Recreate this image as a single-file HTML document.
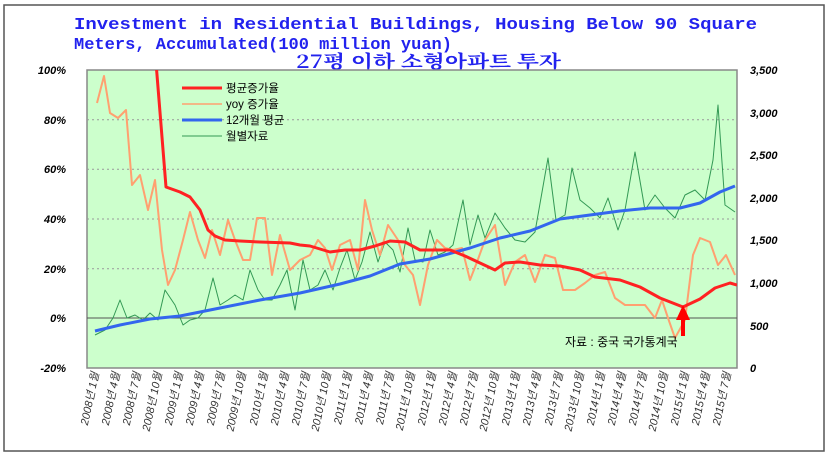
<!DOCTYPE html>
<html><head><meta charset="utf-8"><style>
body{margin:0;background:#fff}
svg{display:block}
</style></head><body>
<svg width="830" height="457" viewBox="0 0 830 457" font-family="Liberation Sans, Noto Sans CJK KR, sans-serif">
<rect x="4" y="5" width="820" height="446" fill="#fff" stroke="#555" stroke-width="1.5"/>
<text x="74" y="29" style="font-family:'Liberation Mono',monospace" font-weight="bold" font-size="16.5" fill="#2222ee" textLength="683" lengthAdjust="spacingAndGlyphs">Investment in Residential Buildings, Housing Below 90 Square</text>
<text x="74" y="49" style="font-family:'Liberation Mono',monospace" font-weight="bold" font-size="16.5" fill="#2222ee" textLength="378" lengthAdjust="spacingAndGlyphs">Meters, Accumulated(100 million yuan)</text>
<text x="296" y="68" style="font-family:'Noto Serif CJK KR','Noto Serif CJK SC',serif" font-weight="bold" font-size="18" fill="#2222ee" textLength="265" lengthAdjust="spacingAndGlyphs">27평 이하 소형아파트 투자</text>
<rect x="87" y="70" width="650" height="298" fill="#ccffcc" stroke="#888" stroke-width="1.5"/>
<g stroke="#999" stroke-dasharray="2,3" stroke-width="1">
<line x1="87" y1="119.7" x2="737" y2="119.7"/><line x1="87" y1="169.3" x2="737" y2="169.3"/>
<line x1="87" y1="219" x2="737" y2="219"/><line x1="87" y1="268.7" x2="737" y2="268.7"/>
</g>
<line x1="87" y1="318" x2="737" y2="318" stroke="#555" stroke-width="1"/>
<g font-size="11" font-style="italic" font-weight="bold" text-anchor="end">
<text x="66" y="74">100%</text><text x="66" y="124">80%</text><text x="66" y="173">60%</text>
<text x="66" y="223">40%</text><text x="66" y="273">20%</text><text x="66" y="322">0%</text><text x="66" y="372">-20%</text>
</g>
<g font-size="11" font-style="italic" font-weight="bold">
<text x="750" y="74">3,500</text><text x="750" y="117">3,000</text><text x="750" y="159">2,500</text>
<text x="750" y="202">2,000</text><text x="750" y="244">1,500</text><text x="750" y="287">1,000</text>
<text x="750" y="330">500</text><text x="750" y="372">0</text>
</g>
<clipPath id="c"><rect x="87" y="70" width="650" height="298"/></clipPath>
<g clip-path="url(#c)" fill="none" stroke-linejoin="round">
<polyline stroke="#339955" stroke-width="1" points="95,335 105,330 113,318 120,300 127,318 135,315 143,320 150,313 158,320 165,290 175,305 183,325 190,320 198,318 205,310 213,278 220,305 228,300 235,295 243,300 250,270 258,290 265,300 272,300 280,285 287,270 295,310 303,260 310,290 318,285 325,270 333,290 340,268 347,250 355,280 362,262 370,232 378,262 385,242 393,250 400,272 408,228 415,260 423,262 430,230 438,255 445,252 453,245 463,200 470,245 478,215 485,238 495,213 505,228 515,240 525,242 535,232 548,158 556,220 565,215 572,168 580,200 590,208 600,218 608,198 618,230 625,210 635,152 645,210 655,195 665,208 675,218 685,195 695,190 705,200 713,160 718,105 725,205 735,212"/>
<polyline stroke="#ffa070" stroke-width="2" points="97,103 104,76 110,113 118,118 126,110 132,185 140,175 148,210 155,180 162,250 168,285 175,270 183,240 190,212 198,240 205,258 212,230 220,255 228,220 235,240 243,260 250,260 257,218 265,218 272,275 280,235 290,270 300,260 310,255 318,240 325,248 332,270 340,245 350,240 358,270 365,200 372,230 380,255 388,225 398,240 405,265 413,275 420,305 428,265 437,240 445,248 453,250 462,248 470,280 477,262 485,240 495,225 505,285 515,262 525,255 535,282 545,255 555,258 563,290 575,290 585,283 595,275 605,272 615,298 625,305 635,305 645,305 655,318 662,300 668,318 675,338 685,320 693,255 700,238 710,242 718,265 726,255 735,275"/>
<polyline stroke="#3366ee" stroke-width="3" points="95,331 120,325 150,319 180,316 220,308 260,300 300,293 340,284 370,276 400,264 430,259 470,248 500,238 530,231 560,219 590,215 620,211 650,208 680,208 700,203 720,192 735,186"/>
<polyline stroke="#ff2222" stroke-width="3" points="155,50 166,187 180,192 190,197 200,210 208,230 215,236 225,240 240,241 260,242 290,243 300,245 310,246 330,252 345,250 360,250 375,246 390,241 405,242 420,250 450,250 465,256 480,263 495,270 505,263 520,262 540,265 560,266 580,270 595,277 620,280 640,287 660,298 683,307 700,299 715,288 730,283 737,285"/>
</g>
<polygon points="683,305 676,320 690,320" fill="#ff0000"/>
<rect x="681" y="318" width="4" height="18" fill="#ff0000"/>
<text x="565" y="346" font-size="12">자료 : 중국 국가통계국</text>
<g font-size="11.5">
<line x1="182" y1="88" x2="222" y2="88" stroke="#ff2222" stroke-width="3"/><text x="226" y="92">평균증가율</text>
<line x1="182" y1="104" x2="222" y2="104" stroke="#ffa070" stroke-width="1.5"/><text x="226" y="108">yoy 증가율</text>
<line x1="182" y1="120" x2="222" y2="120" stroke="#3366ee" stroke-width="3"/><text x="226" y="124">12개월 평균</text>
<line x1="182" y1="136" x2="222" y2="136" stroke="#339955" stroke-width="1"/><text x="226" y="140">월별자료</text>
</g>
<g font-size="11" fill="#333" text-anchor="end" font-style="italic">
<text transform="translate(99,373) rotate(-78)">2008년 1월</text>
<text transform="translate(120,373) rotate(-78)">2008년 4월</text>
<text transform="translate(141,373) rotate(-78)">2008년 7월</text>
<text transform="translate(162,373) rotate(-78)">2008년 10월</text>
<text transform="translate(183,373) rotate(-78)">2009년 1월</text>
<text transform="translate(204,373) rotate(-78)">2009년 4월</text>
<text transform="translate(225,373) rotate(-78)">2009년 7월</text>
<text transform="translate(246,373) rotate(-78)">2009년 10월</text>
<text transform="translate(268,373) rotate(-78)">2010년 1월</text>
<text transform="translate(289,373) rotate(-78)">2010년 4월</text>
<text transform="translate(310,373) rotate(-78)">2010년 7월</text>
<text transform="translate(331,373) rotate(-78)">2010년 10월</text>
<text transform="translate(352,373) rotate(-78)">2011년 1월</text>
<text transform="translate(373,373) rotate(-78)">2011년 4월</text>
<text transform="translate(394,373) rotate(-78)">2011년 7월</text>
<text transform="translate(415,373) rotate(-78)">2011년 10월</text>
<text transform="translate(436,373) rotate(-78)">2012년 1월</text>
<text transform="translate(457,373) rotate(-78)">2012년 4월</text>
<text transform="translate(478,373) rotate(-78)">2012년 7월</text>
<text transform="translate(499,373) rotate(-78)">2012년 10월</text>
<text transform="translate(520,373) rotate(-78)">2013년 1월</text>
<text transform="translate(541,373) rotate(-78)">2013년 4월</text>
<text transform="translate(563,373) rotate(-78)">2013년 7월</text>
<text transform="translate(584,373) rotate(-78)">2013년 10월</text>
<text transform="translate(605,373) rotate(-78)">2014년 1월</text>
<text transform="translate(626,373) rotate(-78)">2014년 4월</text>
<text transform="translate(647,373) rotate(-78)">2014년 7월</text>
<text transform="translate(668,373) rotate(-78)">2014년 10월</text>
<text transform="translate(689,373) rotate(-78)">2015년 1월</text>
<text transform="translate(710,373) rotate(-78)">2015년 4월</text>
<text transform="translate(731,373) rotate(-78)">2015년 7월</text>
</g>
</svg>
</body></html>
